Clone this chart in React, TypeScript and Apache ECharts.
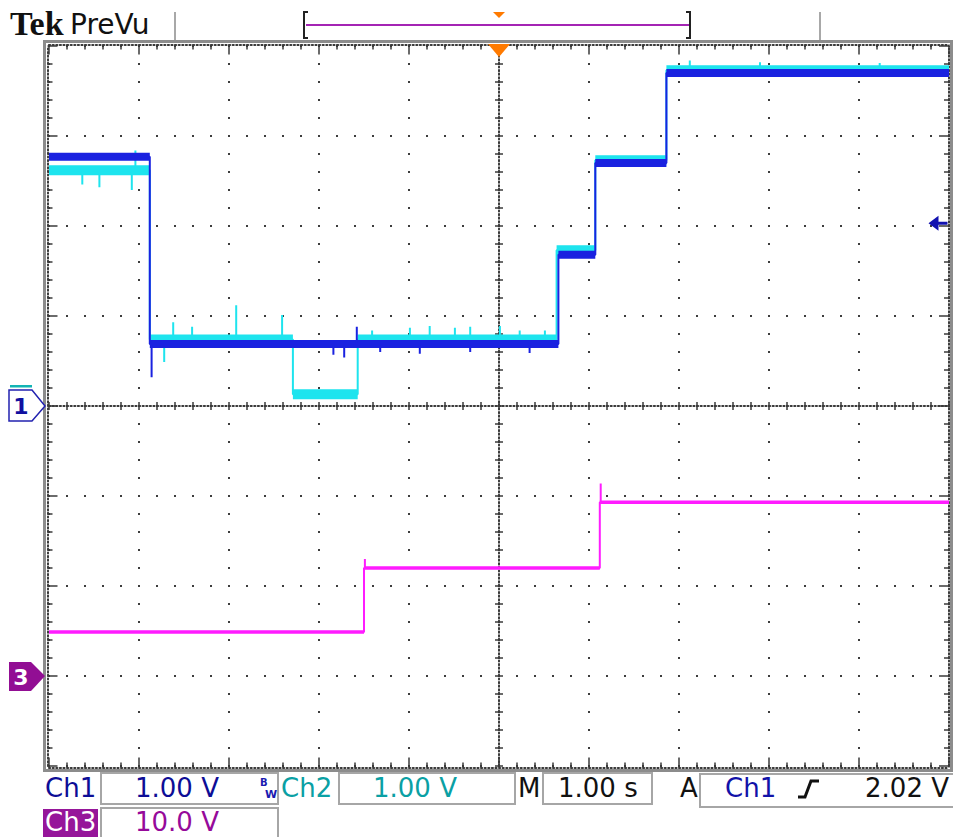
import React, { useEffect, useRef } from "react";
import * as echarts from "echarts";

// ---- Data (time in s, 1 s/div, trigger at 0) ----
// Ch1 (blue), 1.00 V/div
const ch1Bounds = [-5, -3.88, 0.66, 1.07, 1.86, 5];
const ch1Levels = [2.77, 0.69, 1.68, 2.7, 3.7];
const ch1Spikes = [
  [-3.86, 0.32],
  [-1.84, 0.57],
  [-1.72, 0.54],
  [-1.58, 0.88],
  [-1.32, 0.6],
  [-0.88, 0.58],
  [-0.32, 0.6],
  [0.34, 0.59],
];

// Ch2 (cyan), 1.00 V/div
const ch2Bounds = [-5, -3.88, -2.29, -1.57, 0.64, 1.07, 1.86, 5];
const ch2Levels = [2.62, 0.74, 0.13, 0.74, 1.73, 2.73, 3.73];
const ch2Spikes = [
  [-4.63, 2.46],
  [-4.44, 2.43],
  [-4.08, 2.4],
  [-4.04, 2.84],
  [-3.72, 0.49],
  [-3.62, 0.93],
  [-3.41, 0.88],
  [-2.92, 1.12],
  [-2.41, 1.01],
  [-1.41, 0.84],
  [-0.99, 0.87],
  [-0.77, 0.89],
  [-0.49, 0.87],
  [-0.32, 0.88],
  [0.01, 0.89],
  [0.23, 0.84],
  [0.51, 0.84],
  [2.12, 3.84],
  [2.9, 3.82],
  [4.23, 3.81],
];

// Ch3 (magenta), 10.0 V/div
const ch3Bounds = [-5, -1.5, 1.12, 5];
const ch3Levels = [4.9, 12.0, 19.3];
const ch3Spikes = [
  [-1.49, 13.0],
  [1.13, 21.4],
];

const triggerLevel = 2.02; // V on Ch1

// readout texts
const ch1Scale = "1.00 V";
const ch2Scale = "1.00 V";
const ch3Scale = "10.0 V";
const timeScale = "1.00 s";
const trigText = "2.02 V";

const BLUE = "#1a22e0";
const CYAN = "#1ee4ee";
const MAGENTA = "#ff1cff";

function buildTrace(bounds: number[], levels: number[], spikes: number[][]) {
  const pts: any[] = [];
  for (let i = 0; i < levels.length; i++) {
    const t0 = bounds[i];
    const t1 = bounds[i + 1];
    const L = levels[i];
    pts.push([t0, L]);
    spikes
      .filter((s) => s[0] > t0 && s[0] < t1)
      .sort((a, b) => a[0] - b[0])
      .forEach((s) => {
        pts.push([s[0], L], [s[0], s[1]], [s[0], L]);
      });
    pts.push([t1, L]);
  }
  return pts;
}

function buildBand(bounds: number[], levels: number[]) {
  const pts: any[] = [];
  for (let i = 0; i < levels.length; i++) {
    pts.push([bounds[i], levels[i]], [bounds[i + 1], levels[i]], [bounds[i + 1], "-"]);
  }
  return pts;
}

const tickColor = "#3a3a3a";

function tickAxis(
  isX: boolean,
  position: string,
  offset: number,
  inside: boolean,
  majorLen: number,
  minorLen: number,
  showLine: boolean
) {
  return {
    type: "value",
    min: isX ? -5 : -4,
    max: isX ? 5 : 4,
    interval: 1,
    position,
    offset,
    axisLine: {
      show: showLine,
      onZero: false,
      lineStyle: { color: tickColor, width: 2, type: [1.2, 2.4] },
    },
    axisTick: {
      show: true,
      inside,
      length: majorLen,
      lineStyle: { color: tickColor, width: 1.5 },
    },
    minorTick: {
      show: true,
      splitNumber: 5,
      length: minorLen,
      lineStyle: { color: tickColor, width: 1.5 },
    },
    axisLabel: { show: false },
    splitLine: { show: false },
    minorSplitLine: { show: false },
  };
}

function txt(
  text: string,
  x: number,
  y: number,
  fill: string,
  font: string,
  align = "left"
) {
  return {
    type: "text",
    x,
    y,
    silent: true,
    z: 10,
    style: {
      text,
      fill,
      font,
      align,
      verticalAlign: "middle",
      textAlign: align,
      textVerticalAlign: "middle",
    },
  };
}

const RFONT = '26px "DejaVu Sans"';
const BOXSTROKE = "#a6a6a6";

function box(x: number, y: number, w: number, h: number) {
  return {
    type: "rect",
    silent: true,
    z: 5,
    shape: { x, y, width: w, height: h },
    style: { fill: "none", stroke: BOXSTROKE, lineWidth: 2 },
  };
}

const graphics: any[] = [
  // outer graticule frame
  {
    type: "rect",
    silent: true,
    z: 5,
    shape: { x: 44.5, y: 41.5, width: 907, height: 729 },
    style: { fill: "none", stroke: "#8c8c8c", lineWidth: 3 },
  },
  // header
  txt("Tek", 10, 23, "#111111", 'bold 34px "Liberation Serif"'),
  txt("PreVu", 70, 24, "#111111", '28px "DejaVu Sans"'),
  {
    type: "line",
    silent: true,
    shape: { x1: 175, y1: 12, x2: 175, y2: 40 },
    style: { stroke: "#a8a8a8", lineWidth: 2 },
  },
  {
    type: "line",
    silent: true,
    shape: { x1: 820, y1: 12, x2: 820, y2: 40 },
    style: { stroke: "#a8a8a8", lineWidth: 2 },
  },
  {
    type: "line",
    silent: true,
    shape: { x1: 306, y1: 25, x2: 690, y2: 25 },
    style: { stroke: "#a424b4", lineWidth: 2 },
  },
  {
    type: "polyline",
    silent: true,
    shape: { points: [[308, 12], [304, 12], [304, 38], [308, 38]] },
    style: { stroke: "#222", lineWidth: 2, fill: "none" },
  },
  {
    type: "polyline",
    silent: true,
    shape: { points: [[686, 12], [690, 12], [690, 38], [686, 38]] },
    style: { stroke: "#222", lineWidth: 2, fill: "none" },
  },
  {
    type: "polygon",
    silent: true,
    shape: { points: [[493, 12], [505, 12], [499, 18]] },
    style: { fill: "#ff7a00" },
  },
  {
    type: "polygon",
    silent: true,
    z: 20,
    shape: { points: [[488, 44], [510, 44], [499, 57]] },
    style: { fill: "#ff7a00" },
  },
  // Ch1 ground marker
  {
    type: "rect",
    silent: true,
    z: 6,
    shape: { x: 10, y: 385, width: 22, height: 2.5 },
    style: { fill: "#12b4b4" },
  },
  {
    type: "polygon",
    silent: true,
    z: 6,
    shape: { points: [[9, 390], [32, 390], [45, 406], [32, 421], [9, 421]] },
    style: { fill: "#ffffff", stroke: "#2222b0", lineWidth: 1.5 },
  },
  txt("1", 21, 406, "#1010a0", 'bold 22px "DejaVu Sans"', "center"),
  // Ch3 ground marker
  {
    type: "polygon",
    silent: true,
    z: 6,
    shape: { points: [[9, 662], [31, 662], [45, 676], [31, 691], [9, 691]] },
    style: { fill: "#920e94" },
  },
  txt("3", 21, 677, "#ffffff", 'bold 22px "DejaVu Sans"', "center"),
  // readouts row 1
  txt("Ch1", 45, 788, "#0d0d96", RFONT),
  box(101, 773, 177, 31),
  txt(ch1Scale, 135, 788, "#0d0d96", RFONT),
  txt("B", 260, 782, "#1a1ab0", 'bold 10px "DejaVu Sans"'),
  txt("W", 265, 794, "#1a1ab0", 'bold 11px "DejaVu Sans"'),
  txt("Ch2", 281, 788, "#0aa0a4", RFONT),
  box(339, 773, 176, 31),
  txt(ch2Scale, 373, 788, "#0aa0a4", RFONT),
  txt("M", 518, 788, "#111111", RFONT),
  box(543, 773, 109, 31),
  txt(timeScale, 558, 788, "#111111", RFONT),
  txt("A", 680, 788, "#111111", RFONT),
  box(700, 774, 256, 33),
  txt("Ch1", 725, 788, "#1212a8", RFONT),
  {
    type: "polyline",
    silent: true,
    z: 6,
    shape: { points: [[798, 797], [805, 797], [811, 781], [819, 781]] },
    style: { stroke: "#111", lineWidth: 3, fill: "none" },
  },
  txt(trigText, 949, 788, "#111111", RFONT, "right"),
  // readouts row 2
  {
    type: "rect",
    silent: true,
    z: 5,
    shape: { x: 43, y: 809, width: 55, height: 28 },
    style: { fill: "#96169a" },
  },
  txt("Ch3", 45, 822, "#ffffff", RFONT),
  box(101, 808, 177, 34),
  txt(ch3Scale, 135, 822, "#960a9a", RFONT),
];

const gridDot = { color: "#3c3c3c", width: 2, type: [2, 16], dashOffset: 1 };

const option: any = {
  animation: false,
  backgroundColor: "#ffffff",
  grid: { left: 49, top: 46, width: 900, height: 720, show: false },
  xAxis: [
    {
      type: "value",
      min: -5,
      max: 5,
      interval: 1,
      position: "bottom",
      axisLine: { show: false, onZero: false },
      axisTick: { show: false },
      axisLabel: { show: false },
      splitLine: { show: true, lineStyle: gridDot },
    },
    tickAxis(true, "bottom", 1.5, true, 10, 5, true),
    tickAxis(true, "top", 1.5, true, 10, 5, true),
    tickAxis(true, "bottom", -360, true, 4, 4, true),
    tickAxis(true, "bottom", -360, false, 4, 4, false),
  ],
  yAxis: [
    {
      type: "value",
      min: -4,
      max: 4,
      interval: 1,
      position: "left",
      axisLine: { show: false, onZero: false },
      axisTick: { show: false },
      axisLabel: { show: false },
      splitLine: { show: true, lineStyle: gridDot },
    },
    {
      type: "value",
      min: -10,
      max: 70,
      interval: 10,
      position: "right",
      show: false,
      axisLine: { show: false, onZero: false },
      splitLine: { show: false },
    },
    tickAxis(false, "left", 1.5, true, 10, 5, true),
    tickAxis(false, "right", 0, true, 10, 5, true),
    tickAxis(false, "left", -450, true, 4, 4, true),
    tickAxis(false, "left", -450, false, 4, 4, false),
  ],
  graphic: graphics,
  series: [
    {
      name: "Ch2 band",
      type: "line",
      xAxisIndex: 0,
      yAxisIndex: 0,
      data: buildBand(ch2Bounds, ch2Levels),
      symbol: "none",
      silent: true,
      z: 2,
      lineStyle: { color: CYAN, width: 10, cap: "butt" },
    },
    {
      name: "Ch2",
      type: "line",
      xAxisIndex: 0,
      yAxisIndex: 0,
      data: buildTrace(ch2Bounds, ch2Levels, ch2Spikes),
      symbol: "none",
      silent: true,
      z: 3,
      lineStyle: { color: CYAN, width: 2 },
    },
    {
      name: "Ch1 band",
      type: "line",
      xAxisIndex: 0,
      yAxisIndex: 0,
      data: buildBand(ch1Bounds, ch1Levels),
      symbol: "none",
      silent: true,
      z: 4,
      lineStyle: { color: BLUE, width: 8, cap: "butt" },
    },
    {
      name: "Ch1",
      type: "line",
      xAxisIndex: 0,
      yAxisIndex: 0,
      data: buildTrace(ch1Bounds, ch1Levels, ch1Spikes),
      symbol: "none",
      silent: true,
      z: 5,
      lineStyle: { color: BLUE, width: 2 },
      markPoint: {
        silent: true,
        symbol: "path://M0,7.5 L10,0 L10,6 L19,6 L19,9 L10,9 L10,15 Z",
        symbolSize: [19, 15],
        symbolOffset: [-11, -1],
        label: { show: false },
        itemStyle: { color: "#1212b0" },
        data: [{ coord: [5, triggerLevel] }],
      },
    },
    {
      name: "Ch3 band",
      type: "line",
      xAxisIndex: 0,
      yAxisIndex: 1,
      data: buildBand(ch3Bounds, ch3Levels),
      symbol: "none",
      silent: true,
      z: 6,
      lineStyle: { color: MAGENTA, width: 3.5, cap: "butt" },
    },
    {
      name: "Ch3",
      type: "line",
      xAxisIndex: 0,
      yAxisIndex: 1,
      data: buildTrace(ch3Bounds, ch3Levels, ch3Spikes),
      symbol: "none",
      silent: true,
      z: 7,
      lineStyle: { color: MAGENTA, width: 2 },
    },
  ],
};

export default function App() {
  const ref = useRef<HTMLDivElement>(null);
  useEffect(() => {
    if (!ref.current) return;
    const chart = echarts.init(ref.current, null, {
      renderer: "svg",
      width: 953,
      height: 837,
    });
    chart.setOption(option);
    return () => chart.dispose();
  }, []);
  return (
    <div
      ref={ref}
      style={{
        position: "fixed",
        left: 0,
        top: 0,
        width: 953,
        height: 837,
        background: "#ffffff",
      }}
    />
  );
}
